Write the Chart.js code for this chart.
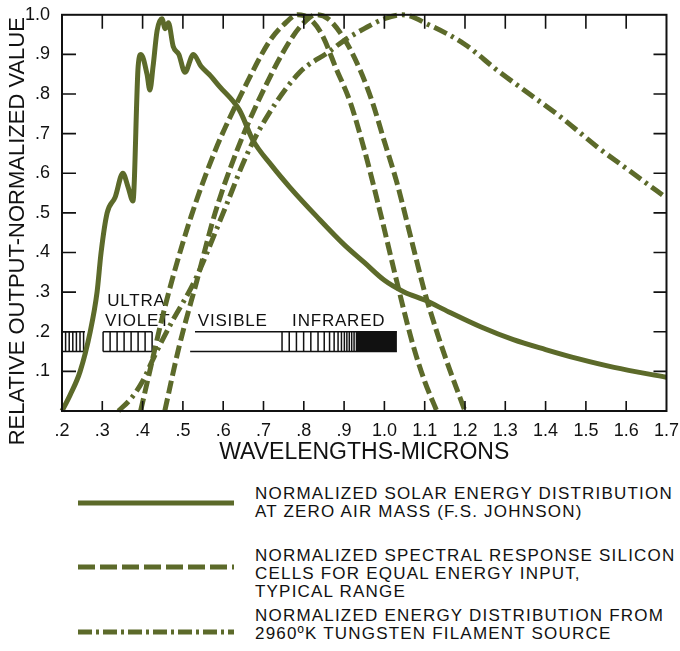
<!DOCTYPE html>
<html>
<head>
<meta charset="utf-8">
<script src="https://cdn.jsdelivr.net/npm/chart.js@4.4.0/dist/chart.umd.min.js"></script>
<style>
  body { margin: 0; background: #fff; }
  #wrap { position: relative; width: 680px; height: 651px; font-family: "Liberation Sans", Arial, sans-serif; color: #111; }
  #chart { position: absolute; left: 0; top: 0; }
  .key { position: absolute; left: 76px; }
  .txt { position: absolute; left: 255px; font-size: 17px; line-height: 18px; letter-spacing: 1.2px; white-space: nowrap; }
</style>
</head>
<body>
<div id="wrap">
  <canvas id="chart" width="680" height="470"></canvas>

  <svg class="key" style="top:493px" width="162" height="20"><line x1="2" y1="10" x2="158" y2="10" stroke="#5c6a2a" stroke-width="5"/></svg>
  <div class="txt" style="top:485px">NORMALIZED SOLAR ENERGY DISTRIBUTION<br>AT ZERO AIR MASS (F.S. JOHNSON)</div>

  <svg class="key" style="top:557px" width="162" height="20"><line x1="2" y1="10" x2="158" y2="10" stroke="#5c6a2a" stroke-width="5" stroke-dasharray="17 5"/></svg>
  <div class="txt" style="top:547px">NORMALIZED SPECTRAL RESPONSE SILICON<br>CELLS FOR EQUAL ENERGY INPUT,<br>TYPICAL RANGE</div>

  <svg class="key" style="top:622px" width="162" height="20"><line x1="2" y1="10" x2="158" y2="10" stroke="#5c6a2a" stroke-width="5" stroke-dasharray="14 4 3 4"/></svg>
  <div class="txt" style="top:607px">NORMALIZED ENERGY DISTRIBUTION FROM<br>2960ºK TUNGSTEN FILAMENT SOURCE</div>
</div>

<script>
// Values (wavelength in microns, normalized output)
const solarWavelength = [0.2, 0.22, 0.245, 0.27, 0.287, 0.297, 0.312, 0.332, 0.351, 0.364, 0.376, 0.389, 0.396, 0.411, 0.418, 0.426, 0.436, 0.448, 0.456, 0.464, 0.476, 0.49, 0.505, 0.526, 0.545, 0.565, 0.59, 0.64, 0.674, 0.72, 0.766, 0.833, 0.9, 0.95, 1.0, 1.05, 1.1, 1.16, 1.24, 1.32, 1.4, 1.48, 1.57, 1.7];
const solarValue = [0, 0.04, 0.1, 0.2, 0.3, 0.4, 0.5, 0.54, 0.6, 0.565, 0.53, 0.87, 0.9, 0.85, 0.81, 0.87, 0.96, 0.99, 0.965, 0.98, 0.92, 0.9, 0.855, 0.9, 0.87, 0.85, 0.82, 0.76, 0.683, 0.62, 0.564, 0.49, 0.42, 0.375, 0.33, 0.3, 0.28, 0.25, 0.212, 0.18, 0.155, 0.132, 0.11, 0.085];

const siliconLowWavelength = [0.395, 0.42, 0.445, 0.473, 0.52, 0.58, 0.65, 0.716, 0.75, 0.785, 0.815, 0.845, 0.88, 0.915, 0.95, 0.99, 1.03, 1.07, 1.1, 1.13];
const siliconLowValue = [0, 0.11, 0.22, 0.33, 0.49, 0.657, 0.81, 0.935, 0.975, 1.0, 0.99, 0.95, 0.865, 0.78, 0.66, 0.5, 0.33, 0.17, 0.075, 0];

const siliconHighWavelength = [0.455, 0.49, 0.535, 0.58, 0.634, 0.7, 0.766, 0.8, 0.83, 0.86, 0.9, 0.94, 0.97, 1.0, 1.03, 1.07, 1.1, 1.13, 1.16, 1.2];
const siliconHighValue = [0, 0.16, 0.33, 0.5, 0.657, 0.81, 0.935, 0.98, 1.0, 0.99, 0.94, 0.86, 0.78, 0.68, 0.58, 0.42, 0.3, 0.2, 0.11, 0];

const tungstenWavelength = [0.34, 0.37, 0.4, 0.43, 0.47, 0.53, 0.6, 0.66, 0.71, 0.79, 0.86, 0.9, 0.95, 1.0, 1.045, 1.11, 1.2, 1.28, 1.36, 1.44, 1.53, 1.61, 1.69];
const tungstenValue = [0, 0.03, 0.075, 0.14, 0.22, 0.33, 0.5, 0.65, 0.745, 0.855, 0.905, 0.935, 0.965, 0.99, 1.0, 0.975, 0.925, 0.86, 0.8, 0.74, 0.665, 0.605, 0.545];

const xTicks = [0.2, 0.3, 0.4, 0.5, 0.6, 0.7, 0.8, 0.9, 1.0, 1.1, 1.2, 1.3, 1.4, 1.5, 1.6, 1.7];
const xTickLabels = ['.2', '.3', '.4', '.5', '.6', '.7', '.8', '.9', '1.0', '1.1', '1.2', '1.3', '1.4', '1.5', '1.6', '1.7'];
const yTicks = [0, 0.1, 0.2, 0.3, 0.4, 0.5, 0.6, 0.7, 0.8, 0.9, 1.0];
const yTickLabels = ['', '.1', '.2', '.3', '.4', '.5', '.6', '.7', '.8', '.9', '1.0'];

const OLIVE = '#5c6a2a';
const INK = '#111';
const FONT = 'Liberation Sans';

function toPoints(xs, ys) {
  return xs.map((x, i) => ({ x: x, y: ys[i] }));
}

function curve(label, xs, ys, dash) {
  return {
    label: label,
    data: toPoints(xs, ys),
    borderColor: OLIVE,
    borderWidth: 5,
    borderDash: dash,
    pointRadius: 0,
    fill: false,
    cubicInterpolationMode: 'monotone',
    clip: 8
  };
}

// Spectrum strip: ultraviolet hatching, visible band, infrared hatching and solid block
const spectrumBand = {
  id: 'spectrumBand',
  beforeDatasetsDraw(chart) {
    const { ctx, scales: { x, y } } = chart;
    const top = y.getPixelForValue(0.2);
    const bot = y.getPixelForValue(0.15);
    const px = v => x.getPixelForValue(v);
    ctx.save();
    ctx.strokeStyle = INK;
    ctx.fillStyle = INK;
    ctx.lineWidth = 1.5;

    const hatch = (x0, x1, step) => {
      ctx.beginPath();
      ctx.moveTo(px(x0), top); ctx.lineTo(px(x1), top);
      ctx.moveTo(px(x0), bot); ctx.lineTo(px(x1), bot);
      for (let p = px(x0); p <= px(x1) + 0.5; p += step) {
        ctx.moveTo(p, top); ctx.lineTo(p, bot);
      }
      ctx.stroke();
    };
    hatch(0.2, 0.257, 3.6);
    hatch(0.302, 0.423, 7);

    // visible band outline
    ctx.beginPath();
    ctx.moveTo(px(0.53), top); ctx.lineTo(px(1.031), top);
    ctx.moveTo(px(0.518), bot); ctx.lineTo(px(1.031), bot);
    ctx.stroke();

    // infrared hatching gets denser toward the solid block
    ctx.beginPath();
    let p = px(0.746), step = 7.2;
    const end = px(0.932);
    while (p < end) {
      ctx.moveTo(p, top); ctx.lineTo(p, bot);
      p += step;
      if (p > px(0.82)) step = Math.max(2.4, step * 0.86);
    }
    ctx.stroke();
    ctx.fillRect(end, top, px(1.031) - end, bot - top);

    ctx.font = '17px "' + FONT + '"';
    ctx.letterSpacing = '0.8px';
    ctx.textBaseline = 'middle';
    ctx.textAlign = 'left';
    ctx.fillText('ULTRA', px(0.312), y.getPixelForValue(0.277));
    ctx.fillText('VIOLET', px(0.307), y.getPixelForValue(0.227));
    ctx.fillText('VISIBLE', px(0.537), y.getPixelForValue(0.227));
    ctx.fillText('INFRARED', px(0.771), y.getPixelForValue(0.227));
    ctx.restore();
  }
};

// Box round the plot with tick marks pointing inwards on all four sides
const frame = {
  id: 'frame',
  afterDatasetsDraw(chart) {
    const { ctx, chartArea: a, scales: { x, y } } = chart;
    ctx.save();
    ctx.strokeStyle = INK;
    ctx.lineWidth = 2;
    ctx.strokeRect(a.left, a.top, a.right - a.left, a.bottom - a.top);
    ctx.lineWidth = 1.6;
    ctx.beginPath();
    xTicks.slice(1, -1).forEach(v => {
      const p = x.getPixelForValue(v);
      ctx.moveTo(p, a.bottom); ctx.lineTo(p, a.bottom - 10);
      ctx.moveTo(p, a.top); ctx.lineTo(p, a.top + 14);
    });
    yTicks.slice(1, -1).forEach(v => {
      const p = y.getPixelForValue(v);
      ctx.moveTo(a.left, p); ctx.lineTo(a.left + 14, p);
      ctx.moveTo(a.right, p); ctx.lineTo(a.right - 13, p);
    });
    ctx.stroke();
    ctx.restore();
  }
};

new Chart(document.getElementById('chart'), {
  type: 'line',
  data: {
    datasets: [
      curve('Normalized solar energy distribution at zero air mass (F.S. Johnson)', solarWavelength, solarValue, []),
      curve('Normalized spectral response silicon cells (low)', siliconLowWavelength, siliconLowValue, [13, 5]),
      curve('Normalized spectral response silicon cells (high)', siliconHighWavelength, siliconHighValue, [13, 5]),
      curve('Normalized energy distribution from 2960ºK tungsten filament source', tungstenWavelength, tungstenValue, [14, 5, 3, 5])
    ]
  },
  options: {
    responsive: false,
    animation: false,
    layout: { padding: { top: 14, right: 12, left: 0, bottom: 0 } },
    plugins: { legend: { display: false }, tooltip: { enabled: false } },
    scales: {
      x: {
        type: 'linear',
        min: 0.2,
        max: 1.7,
        afterBuildTicks: scale => { scale.ticks = xTicks.map(v => ({ value: v })); },
        afterFit: scale => { scale.height = 59; },
        grid: { display: false },
        border: { display: false },
        ticks: {
          autoSkip: false,
          maxRotation: 0,
          padding: 1,
          color: INK,
          font: { family: FONT, size: 18 },
          callback: (v, i) => xTickLabels[i]
        },
        title: {
          display: true,
          text: 'WAVELENGTHS-MICRONS',
          color: INK,
          font: { family: FONT, size: 23 },
          padding: { top: 0, bottom: 4 }
        }
      },
      y: {
        min: 0,
        max: 1,
        afterBuildTicks: scale => { scale.ticks = yTicks.map(v => ({ value: v })); },
        afterFit: scale => { scale.width = 62; },
        grid: { display: false },
        border: { display: false },
        ticks: {
          padding: 4,
          color: INK,
          font: { family: FONT, size: 18 },
          callback: (v, i) => yTickLabels[i]
        },
        title: {
          display: true,
          // trailing spaces nudge the rotated title down, as in the print
          text: 'RELATIVE OUTPUT-NORMALIZED VALUE      ',
          color: INK,
          font: { family: FONT, size: 22 },
          padding: { top: 5, bottom: 0 }
        }
      }
    }
  },
  plugins: [spectrumBand, frame]
});
</script>
</body>
</html>
